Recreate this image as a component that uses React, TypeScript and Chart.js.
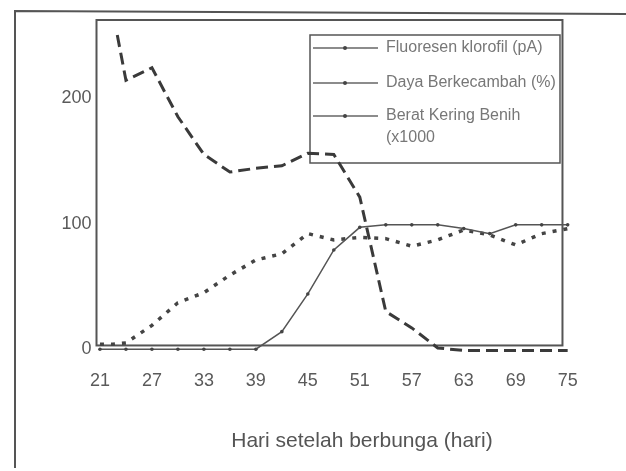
import React, { useEffect, useRef } from "react";
import { Chart, registerables } from "chart.js";

Chart.register(...registerables);

// ---- data ----
const fluorDays = [23, 24, 27, 30, 33, 36, 39, 42, 45, 48, 51, 54, 57, 60, 63, 66, 69, 72, 75];
const fluorValues = [250, 214, 224, 185, 155, 141, 144, 146, 156, 155, 121, 30, 17, 1, -1, -1, -1, -1, -1];

const dayaDays = [21, 24, 27, 30, 33, 36, 39, 42, 45, 48, 51, 54, 57, 60, 63, 66, 69, 72, 75];
const dayaValues = [0, 0, 0, 0, 0, 0, 0, 14, 44, 79, 97, 99, 99, 99, 96, 92, 99, 99, 99];

const beratDays = [21, 22.5, 24, 27, 30, 33, 36, 39, 42, 45, 48, 51, 54, 57, 60, 63, 66, 69, 72, 75];
const beratValues = [4, 4, 5, 19, 37, 45, 59, 71, 76, 92, 87, 89, 88, 82, 87, 95, 91, 83, 92, 96];

const xTickValues = [21, 27, 33, 39, 45, 51, 57, 63, 69, 75];
const yTickValues = [0, 100, 200];

const seriesLabels = ["Fluoresen klorofil (pA)", "Daya Berkecambah (%)", "Berat Kering Benih\n(x1000"];
const xTitle = "Hari setelah berbunga (hari)";

const FONT = "'Liberation Sans', Arial, sans-serif";

const toXY = (xs: number[], ys: number[]) => xs.map((x, i) => ({ x, y: ys[i] }));

const decorPlugin = {
  id: "decor",
  beforeDatasetsDraw(chart: any) {
    const { ctx, chartArea, scales } = chart;
    const xs = scales.x;
    const ys = scales.y;
    ctx.save();
    // outer frame (left + top)
    ctx.strokeStyle = "#555";
    ctx.lineWidth = 2;
    ctx.beginPath();
    ctx.moveTo(15, 468);
    ctx.lineTo(15, 11);
    ctx.lineTo(626, 14);
    ctx.stroke();
    // plot frame
    const l = chartArea.left;
    const r = xs.getPixelForValue(74.4);
    const t = chartArea.top;
    const b = ys.getPixelForValue(3);
    ctx.strokeStyle = "#555";
    ctx.lineWidth = 2;
    ctx.strokeRect(l, t, r - l, b - t);

    // x axis title
    ctx.fillStyle = "#555";
    ctx.font = `21px ${FONT}`;
    ctx.textAlign = "center";
    ctx.textBaseline = "middle";
    ctx.fillText(xTitle, 362, 441);

    // legend box
    const bx = 310, by = 35, bw = 250, bh = 128;
    ctx.lineWidth = 1.5;
    ctx.strokeStyle = "#555";
    ctx.strokeRect(bx, by, bw, bh);
    const rows = [48, 83, 116];
    ctx.font = `16px ${FONT}`;
    ctx.textBaseline = "middle";
    ctx.textAlign = "left";
    seriesLabels.forEach((lab, i) => {
      const yy = rows[i];
      ctx.strokeStyle = "#666";
      ctx.lineWidth = 1.5;
      ctx.beginPath();
      ctx.moveTo(313, yy);
      ctx.lineTo(378, yy);
      ctx.stroke();
      ctx.fillStyle = "#444";
      ctx.beginPath();
      ctx.arc(345, yy, 2, 0, Math.PI * 2);
      ctx.fill();
      ctx.fillStyle = "#777";
      lab.split("\n").forEach((line, k) => {
        ctx.fillText(line, 386, yy + k * 22);
      });
    });
    ctx.restore();
  },
};

export default function App() {
  const ref = useRef<HTMLCanvasElement | null>(null);

  useEffect(() => {
    if (!ref.current) return;
    const chart = new Chart(ref.current, {
      type: "line",
      data: {
        datasets: [
          {
            label: seriesLabels[0],
            data: toXY(fluorDays, fluorValues),
            borderColor: "#3a3a3a",
            borderWidth: 3,
            borderDash: [12, 6],
            pointRadius: 0,
            tension: 0,
          },
          {
            label: seriesLabels[1],
            data: toXY(dayaDays, dayaValues),
            borderColor: "#555",
            backgroundColor: "#444",
            borderWidth: 1.5,
            pointRadius: 1.8,
            pointBorderWidth: 0,
            tension: 0,
          },
          {
            label: seriesLabels[2],
            data: toXY(beratDays, beratValues),
            borderColor: "#444",
            borderWidth: 3.5,
            borderDash: [4, 7],
            pointRadius: 0,
            tension: 0,
          },
        ],
      },
      options: {
        animation: false,
        responsive: false,
        devicePixelRatio: 1,
        layout: { padding: { left: 0, top: 20, right: 54, bottom: 0 } },
        plugins: { legend: { display: false }, tooltip: { enabled: false } },
        scales: {
          x: {
            type: "linear",
            min: 20.6,
            max: 75.5,
            grid: { display: false, drawTicks: false },
            border: { display: false },
            afterBuildTicks: (s: any) => {
              s.ticks = xTickValues.map((v) => ({ value: v }));
            },
            afterFit: (s: any) => {
              s.height = 118;
            },
            ticks: {
              autoSkip: false,
              maxRotation: 0,
              padding: 17,
              color: "#5a5a5a",
              font: { family: FONT, size: 18 },
            },
          },
          y: {
            type: "linear",
            min: -3,
            max: 262,
            grid: { display: false, drawTicks: false },
            border: { display: false },
            afterBuildTicks: (s: any) => {
              s.ticks = yTickValues.map((v) => ({ value: v }));
            },
            afterFit: (s: any) => {
              s.width = 96.5;
            },
            ticks: {
              padding: 5,
              color: "#5a5a5a",
              font: { family: FONT, size: 18 },
            },
          },
        },
      },
      plugins: [decorPlugin],
    } as any);
    return () => chart.destroy();
  }, []);

  return (
    <div style={{ position: "absolute", left: 0, top: 0, width: 626, height: 471, background: "#fff" }}>
      <canvas ref={ref} width={626} height={471} style={{ width: 626, height: 471, display: "block" }} />
    </div>
  );
}
